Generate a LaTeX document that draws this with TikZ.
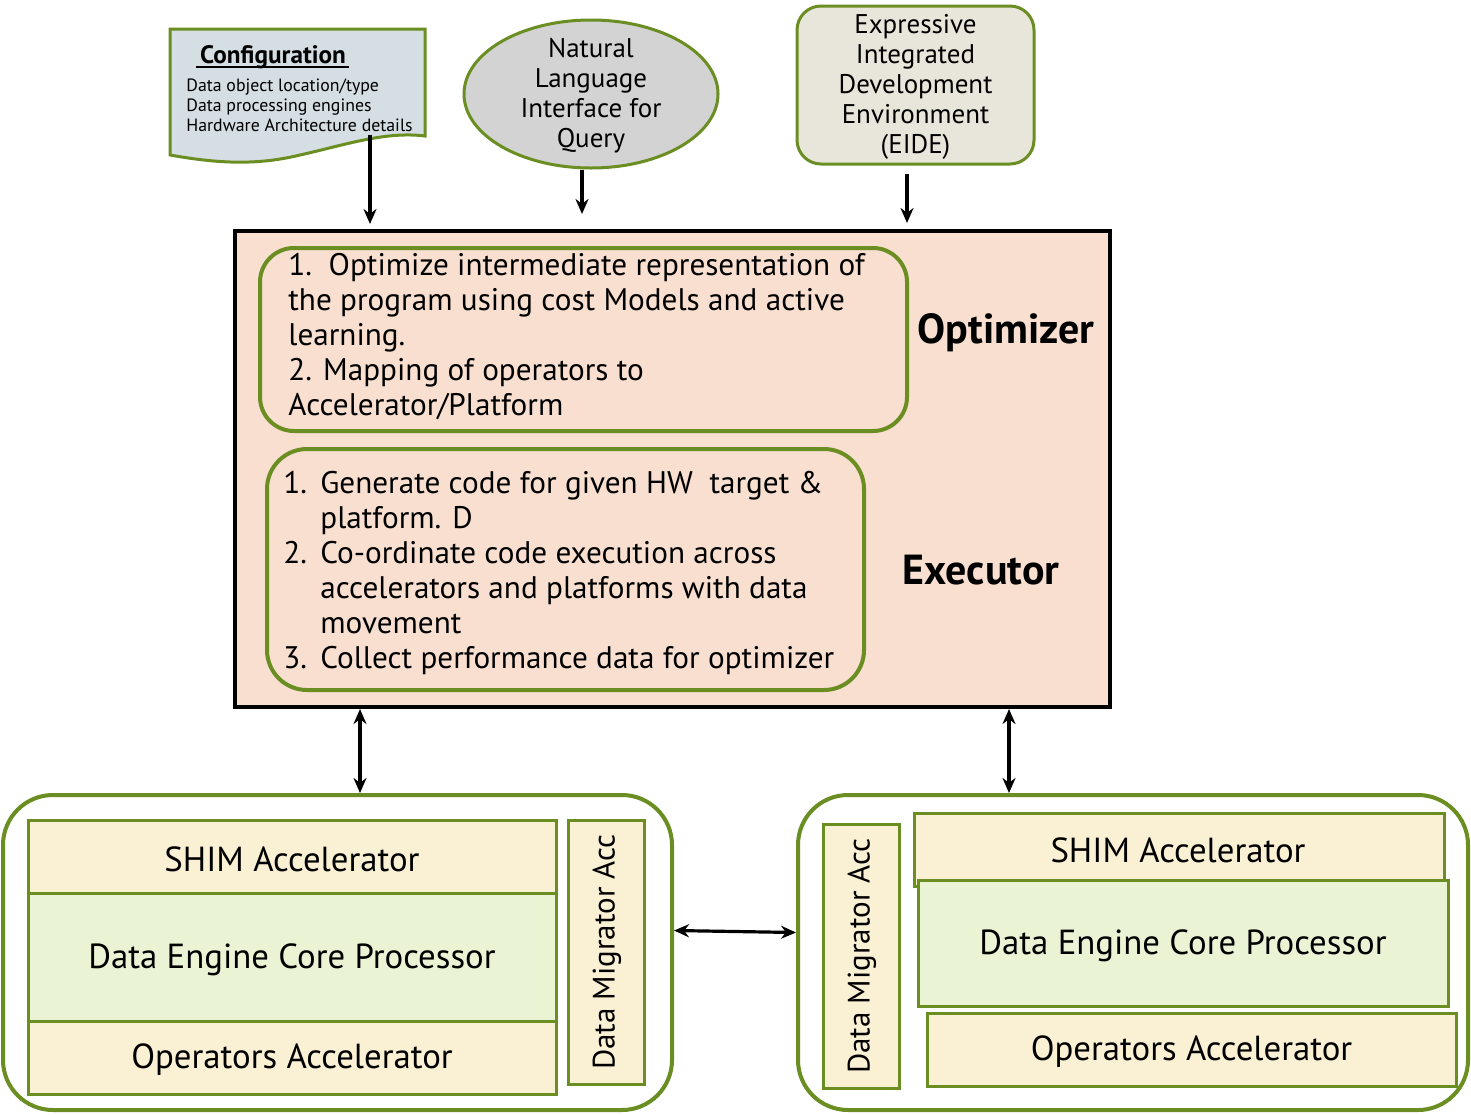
\documentclass[tikz,border=0pt]{standalone}
\usepackage{fontspec}
\setmainfont{PT Sans}
\usetikzlibrary{arrows.meta,shapes.geometric,calc}
\definecolor{grn}{RGB}{107,142,35}
\definecolor{peach}{RGB}{248,223,208}
\definecolor{cream}{RGB}{250,240,212}
\definecolor{lgreen}{RGB}{234,244,212}
\definecolor{cfgfill}{RGB}{213,222,226}
\definecolor{eidefill}{RGB}{232,230,218}
\definecolor{ellfill}{RGB}{211,211,211}
\newcommand\numit[1]{\makebox[18.5pt][l]{#1}}
\begin{document}
\begin{tikzpicture}[x=0.5pt,y=-0.5pt,
  gbox/.style={draw=grn,line width=1.5pt,rectangle,inner sep=0pt},
  gwide/.style={draw=grn,line width=2pt},
  arr/.style={-{Stealth[length=7.5pt,width=6.5pt]},line width=1.6pt},
  barr/.style={{Stealth[length=7.5pt,width=6.5pt]}-{Stealth[length=7.5pt,width=6.5pt]},line width=1.6pt},
  boxtxt/.style={font=\fontsize{17.4}{20}\selectfont},
  migtxt/.style={font=\fontsize{15.5}{18}\selectfont},
  toptxt/.style={font=\fontsize{13.5}{15}\selectfont,align=center},
  listtxt/.style={font=\fontsize{15.6}{17.5}\selectfont,align=left,anchor=north west,inner sep=0pt},
  ttl/.style={font=\fontsize{21}{24}\selectfont\bfseries}]
\useasboundingbox (0,0) rectangle (1471,1114);
\fill[white] (0,0) rectangle (1471,1114);

% Configuration document
\filldraw[fill=cfgfill,draw=grn,line width=1.5pt]
  (170,29) -- (425,29) -- (425,136)
  .. controls (385,131) and (345,145) .. (300,155)
  .. controls (255,166) and (215,163) .. (170,155) -- cycle;
\node[font=\fontsize{12.6}{14}\selectfont\bfseries] (cfgt) at (273,57) {Configuration};
\draw[line width=1pt] ([xshift=-0.5pt,yshift=-1.8pt]cfgt.base west) ++(4,0) -- ([xshift=-2pt,yshift=-1.8pt]cfgt.base east);
\node[font=\fontsize{8.9}{10}\selectfont,align=left,anchor=north west,inner sep=0pt] (cfgl) at (186,78)
  {Data object location/type\\Data processing engines\\Hardware Architecture details};
\coordinate (cfgout) at (370,135);

% Natural language ellipse
\node[ellipse,draw=grn,line width=1.5pt,fill=ellfill,
  minimum width=127pt,minimum height=74pt,inner sep=0pt,toptxt,text depth=0pt] (nl) at (591,94) {};
\node[toptxt] (nlt) at (591,96) {Natural\\Language\\Interface for\\Query};

% EIDE
\node[draw=grn,line width=1.5pt,fill=eidefill,rounded corners=12pt,minimum width=118.5pt,
  minimum height=79pt,inner sep=0pt] (eide) at (915.5,85) {};
\node[toptxt] (eidet) at (915.5,87) {Expressive\\Integrated\\Development\\Environment\\(EIDE)};

% Main box
\node[draw=black,line width=2pt,fill=peach,minimum width=437.5pt,minimum height=238pt,inner sep=0pt] (main) at (672.5,469) {};

% Optimizer inner
\node[gwide,fill=peach,rounded corners=17pt,minimum width=323.5pt,minimum height=91.5pt,inner sep=0pt] (opt) at (583.5,339.5) {};
\node[listtxt] (optt) at (288,253)
  {1.\ \ Optimize intermediate representation of\\
   the program using cost Models and active\\
   learning.\\
   2. Mapping of operators to\\
   Accelerator/Platform};
\node[ttl] (optl) at (1006,333) {Optimizer};

% Executor inner
\node[gwide,fill=peach,rounded corners=20pt,minimum width=298.5pt,minimum height=120.5pt,inner sep=0pt] (exe) at (565.5,569.5) {};
\node[listtxt] (exet) at (283,471)
  {\numit{1.}Generate code for given HW\ \ target \&\\
   \hspace*{18.5pt}platform. D\\
   \numit{2.}Co-ordinate code execution across\\
   \hspace*{18.5pt}accelerators and platforms with data\\
   \hspace*{18.5pt}movement\\
   \numit{3.}Collect performance data for optimizer};
\node[ttl] (exel) at (981,570) {Executor};

% Left container
\node[gwide,fill=white,rounded corners=25pt,minimum width=334.5pt,minimum height=157.5pt,inner sep=0pt] (lc) at (337.5,952.5) {};
\node[gbox,fill=cream,minimum width=264pt,minimum height=36.5pt] (ls) at (292,856.5) {};
\node[boxtxt] at (292,859) {SHIM Accelerator};
\node[gbox,fill=lgreen,minimum width=264pt,minimum height=64pt] (ld) at (292,957) {};
\node[boxtxt] at (292,960) {Data Engine Core Processor};
\node[gbox,fill=cream,minimum width=264pt,minimum height=36.5pt] (lo) at (292,1057.5) {};
\node[boxtxt] at (292,1060) {Operators Accelerator};
\node[gbox,fill=cream,minimum width=38pt,minimum height=132pt] (lm) at (606,952) {};
\node[migtxt,rotate=90] (lmt) at (607,952) {Data Migrator Acc};

% Right container
\node[gwide,fill=white,rounded corners=25pt,minimum width=335pt,minimum height=157.5pt,inner sep=0pt] (rc) at (1133,952.5) {};
\node[gbox,fill=cream,minimum width=38pt,minimum height=132pt] (rm) at (861,956) {};
\node[migtxt,rotate=90] (rmt) at (862,956) {Data Migrator Acc};
\node[gbox,fill=cream,minimum width=265pt,minimum height=36.5pt,anchor=north west] (rs) at (913,812) {};
\node[boxtxt] (rst) at (1178,850) {SHIM Accelerator};
\node[gbox,fill=lgreen,minimum width=265pt,minimum height=63pt] (rd) at (1183,943) {};
\node[boxtxt] at (1183,946) {Data Engine Core Processor};
\node[gbox,fill=cream,minimum width=264.5pt,minimum height=36.5pt] (ro) at (1191.5,1049.5) {};
\node[boxtxt] at (1191.5,1052) {Operators Accelerator};

% Arrows
\draw[arr] (cfgout) -- ($(cfgout |- main.north)+(0,-5)$);
\draw[arr] ([xshift=-4.5pt]nl.south) -- ($([xshift=-4.5pt]nl.south |- main.north)+(0,-15)$);
\draw[arr] ($(eide.south)+(-8.5,8)$) -- ($(eide.south |- main.north)+(-8.5,-6)$);
\draw[barr] (main.south -| 360,0) -- (lc.north -| 360,0);
\draw[barr] (main.south -| 1009,0) -- (rc.north -| 1009,0);
\draw[barr] ([yshift=11pt]lc.east) -- ([yshift=10pt]rc.west);
\end{tikzpicture}
\end{document}
